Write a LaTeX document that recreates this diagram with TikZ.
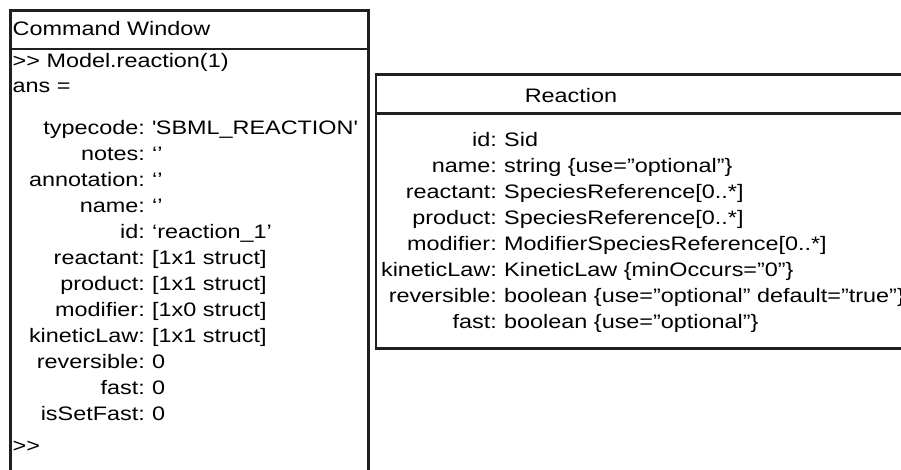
\documentclass[tikz,border=0pt]{standalone}
\usepackage{fontspec}
\setmainfont[FakeStretch=1.2]{Liberation Sans}
\begin{document}
\begin{tikzpicture}[x=1pt,y=-1pt,
	frame/.style={line width=2.4pt,color=black!88},
	txt/.style={inner sep=0pt,font=\fontsize{19.5}{24}\selectfont},
	key/.style={txt,anchor=base east},
	val/.style={txt,anchor=base west}]
	\useasboundingbox (0,0) rectangle (901,469);
	\clip (0,0) rectangle (901,469);
	% command window
	\draw[frame] (10.5,480) -- (10.5,10.5) -- (368.5,10.5) -- (368.5,480);
	\draw[frame] (10.5,49) -- (368.5,49);
	\node[val] (cw) at (12.5,35) {Command Window};
	\node[val] (call) at (12.5,67) {>\kern0pt> Model.reaction(1)};
	\node[val] (ans) at (12.5,92) {ans =};
	\node[key] (k1) at (145,134) {typecode:};
	\node[val] (v1) at (152,134) {\textquotesingle SBML\_REACTION\textquotesingle};
	\node[key] (k2) at (145,160) {notes:};
	\node[val] (v2) at (152,160) {‘’};
	\node[key] (k3) at (145,186) {annotation:};
	\node[val] (v3) at (152,186) {‘’};
	\node[key] (k4) at (145,212) {name:};
	\node[val] (v4) at (152,212) {‘’};
	\node[key] (k5) at (145,238) {id:};
	\node[val] (v5) at (152,238) {‘reaction\_1’};
	\node[key] (k6) at (145,264) {reactant:};
	\node[val] (v6) at (152,264) {[1x1 struct]};
	\node[key] (k7) at (145,290) {product:};
	\node[val] (v7) at (152,290) {[1x1 struct]};
	\node[key] (k8) at (145,316) {modifier:};
	\node[val] (v8) at (152,316) {[1x0 struct]};
	\node[key] (k9) at (145,342) {kineticLaw:};
	\node[val] (v9) at (152,342) {[1x1 struct]};
	\node[key] (k10) at (145,368) {reversible:};
	\node[val] (v10) at (152,368) {0};
	\node[key] (k11) at (145,394) {fast:};
	\node[val] (v11) at (152,394) {0};
	\node[key] (k12) at (145,420) {isSetFast:};
	\node[val] (v12) at (152,420) {0};
	\node[val] (prompt) at (12.5,452) {>\kern0pt>};
	% reaction class
	\draw[frame] (910,74.5) -- (376,74.5) -- (376,348.5) -- (910,348.5);
	\draw[frame] (376,113.5) -- (910,113.5);
	\node[txt,anchor=base] (rx) at (571,102.5) {Reaction};
	\node[key] (a1) at (497,146) {id:};
	\node[val] (b1) at (504,146) {Sid};
	\node[key] (a2) at (497,172) {name:};
	\node[val] (b2) at (504,172) {string \{use=”optional”\}};
	\node[key] (a3) at (497,198) {reactant:};
	\node[val] (b3) at (504,198) {SpeciesReference[0..*]};
	\node[key] (a4) at (497,224) {product:};
	\node[val] (b4) at (504,224) {SpeciesReference[0..*]};
	\node[key] (a5) at (497,250) {modifier:};
	\node[val] (b5) at (504,250) {ModifierSpeciesReference[0..*]};
	\node[key] (a6) at (497,276) {kineticLaw:};
	\node[val] (b6) at (504,276) {KineticLaw \{minOccurs=”0”\}};
	\node[key] (a7) at (497,302) {reversible:};
	\node[val] (b7) at (504,302) {boolean \{use=”optional” default=”true”\}};
	\node[key] (a8) at (497,328) {fast:};
	\node[val] (b8) at (504,328) {boolean \{use=”optional”\}};
\end{tikzpicture}
\end{document}
